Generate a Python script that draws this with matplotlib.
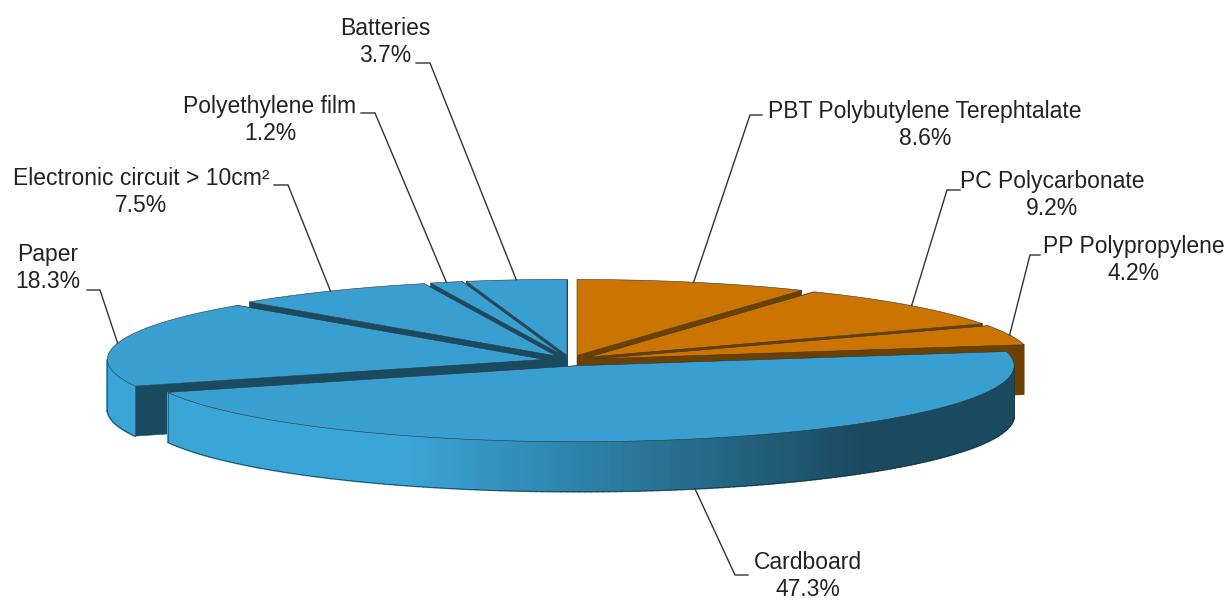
import matplotlib
matplotlib.use("Agg")
import matplotlib.pyplot as plt
import numpy as np
from matplotlib.colors import to_rgb

plt.rcParams['font.family'] = ['Liberation Sans', 'DejaVu Sans']

# clockwise from 12 o'clock
labels = ["PBT Polybutylene Terephtalate", "PC Polycarbonate", "PP Polypropylene", "Cardboard",
          "Paper", "Electronic circuit > 10cm²", "Polyethylene film", "Batteries"]
values = [8.6, 9.2, 4.2, 47.3, 18.3, 7.5, 1.2, 3.7]
groups = ["orange", "orange", "orange", "blue", "blue", "blue", "blue", "blue"]

top_col = {"orange": "#cc7400", "blue": "#389fd0"}
cut_col = {"orange": "#6e4000", "blue": "#1a4a60"}

# pie geometry in pixels
cx, cy = 570, 360.6
rx, ry = 437, 76
depth = 50
explode_x = 0.06
explode_y = 0.07

# text centre and elbow of the leader, same order as labels
text_pos = [(925, 125), (1052, 195), (1134, 260), (808, 576), (48, 268), (141, 192), (270, 120), (385, 42)]
elbow = [[(762, 115), (750, 115)], [(960, 190), (947, 190)], [(1040, 255), (1030, 255)], [(748, 575), (735, 575)],
         [(87, 290), (100, 290)], [(274, 185), (288, 185)], [(361, 113), (375, 113)], [(416, 63), (430, 63)]]

fig = plt.figure(figsize=(12.29, 6), dpi=100)
ax = fig.add_axes([0, 0, 1, 1])
ax.set_xlim(0, 1229)
ax.set_ylim(600, 0)
ax.axis("off")

edges = np.cumsum([0] + values) / sum(values) * 2 * np.pi


def tip(i):
    mid = (edges[i] + edges[i + 1]) / 2
    return cx + explode_x * rx * np.sin(mid), cy - explode_y * ry * np.cos(mid)


def rim(i, t):
    x0, y0 = tip(i)
    return x0 + rx * np.sin(t), y0 - ry * np.cos(t)


def wall_color(x, group):
    # light on the left of the pie, dark on the right
    if group == "orange":
        return cut_col[group]
    f = np.clip((x - 400) / (860 - 400), 0, 1)
    a = np.array(to_rgb("#3aa6d8"))
    b = np.array(to_rgb(cut_col[group]))
    return tuple(a + (b - a) * f)


def draw_slice(i):
    g = groups[i]
    x0, y0 = tip(i)
    t = np.linspace(edges[i], edges[i + 1], 200)
    xs, ys = rim(i, t)

    # radial cut faces
    for a in (edges[i], edges[i + 1]):
        xa, ya = rim(i, a)
        ax.fill([x0, xa, xa, x0], [y0, ya, ya + depth, y0 + depth], color=cut_col[g], lw=0.4, zorder=i_order[i])

    # outer wall, only the part turned to the viewer
    lo, hi = max(edges[i], np.pi / 2), min(edges[i + 1], 3 * np.pi / 2)
    if hi > lo:
        tw = np.linspace(lo, hi, 200)
        xw, yw = rim(i, tw)
        for k in range(len(tw) - 1):
            c = wall_color((xw[k] + xw[k + 1]) / 2, g)
            ax.fill([xw[k], xw[k + 1], xw[k + 1], xw[k]],
                    [yw[k], yw[k + 1], yw[k + 1] + depth, yw[k] + depth],
                    color=c, lw=1.2, zorder=i_order[i])
        ax.plot(xw, yw + depth, color="#20303a", lw=0.5, zorder=i_order[i])
        ax.plot([xw[0], xw[0]], [yw[0], yw[0] + depth], color="#20303a", lw=0.4, zorder=i_order[i])
        ax.plot([xw[-1], xw[-1]], [yw[-1], yw[-1] + depth], color="#20303a", lw=0.4, zorder=i_order[i])

    # top face
    ax.fill(np.r_[x0, xs], np.r_[y0, ys], facecolor=top_col[g], edgecolor="#30363a", lw=0.4, zorder=i_order[i] + 0.5)


# back slices first, cardboard last
order = [7, 6, 5, 4, 0, 1, 2, 3]
i_order = {s: n + 1 for n, s in enumerate(order)}
for s in order:
    draw_slice(s)

for i, name in enumerate(labels):
    mid = (edges[i] + edges[i + 1]) / 2
    xa, ya = rim(i, mid)
    if np.pi / 2 < mid < 3 * np.pi / 2:
        ya = ya + depth
    (x1, y1), (x2, y2) = elbow[i]
    ax.plot([x1, x2, xa], [y1, y2, ya], color="#333333", lw=1.0, zorder=20, solid_joinstyle="miter")
    ax.text(text_pos[i][0], text_pos[i][1], "%s\n%.1f%%" % (name, values[i]), ha="center", va="center",
            fontsize=16.5, color="#222222", linespacing=1.25, zorder=21)

fig.savefig("out.png", dpi=100, facecolor="white")
